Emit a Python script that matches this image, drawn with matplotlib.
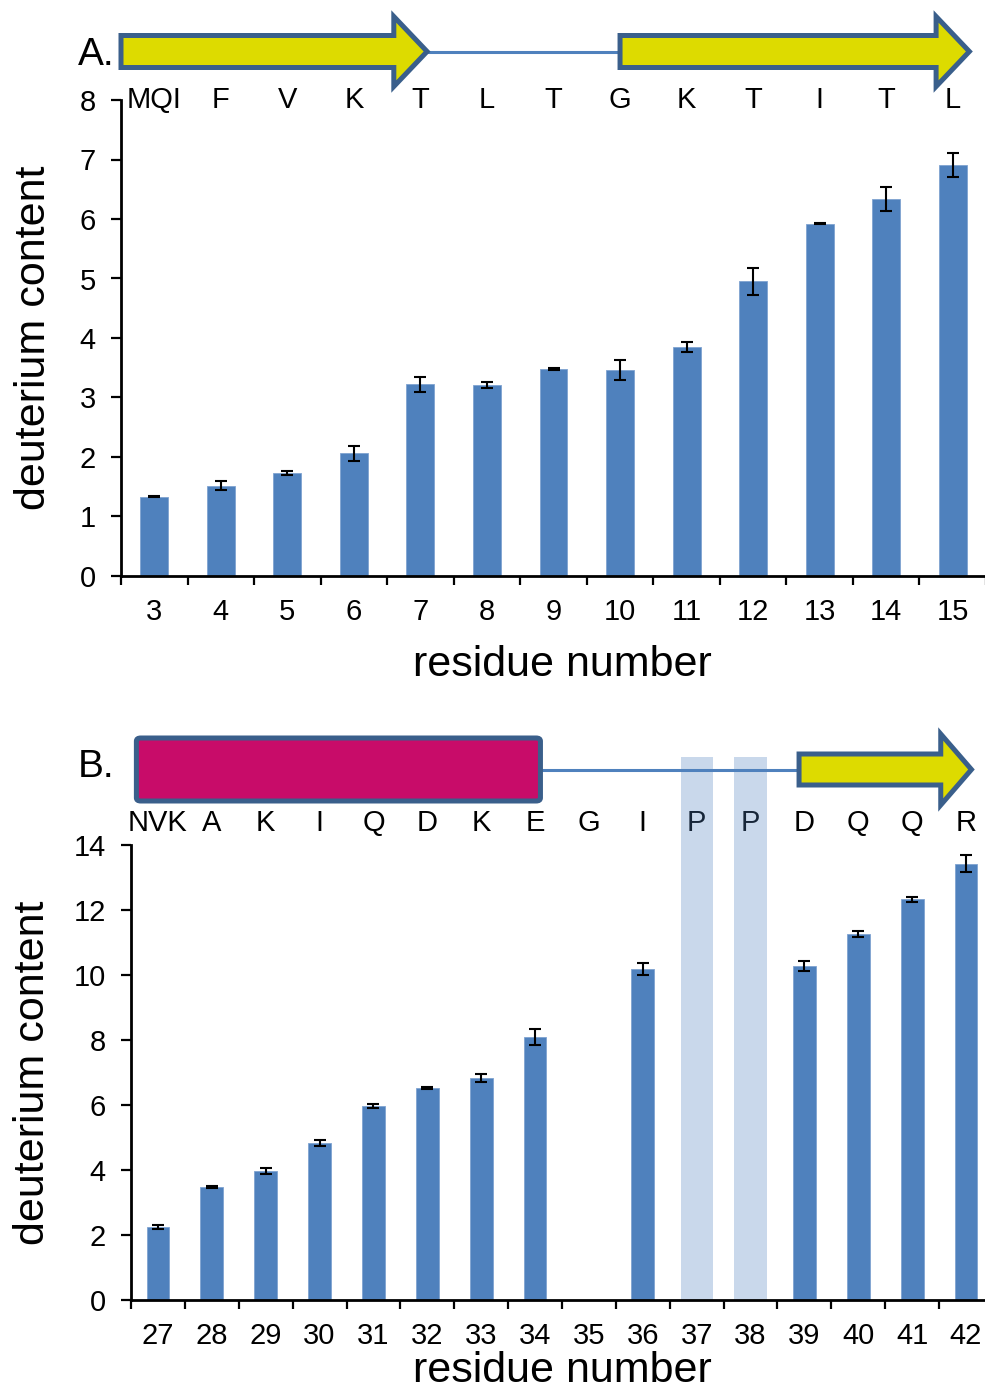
import numpy as np
import matplotlib
matplotlib.use("Agg")
import matplotlib.pyplot as plt
from matplotlib.patches import Polygon, FancyBboxPatch

plt.rcParams['font.family'] = ['Liberation Sans', 'DejaVu Sans']

# ---- panel A data: residues 3-15 ----
residues_a = [3, 4, 5, 6, 7, 8, 9, 10, 11, 12, 13, 14, 15]
seq_a = ["MQI", "F", "V", "K", "T", "L", "T", "G", "K", "T", "I", "T", "L"]
deut_a = [1.33, 1.52, 1.73, 2.06, 3.22, 3.21, 3.48, 3.46, 3.85, 4.95, 5.92, 6.34, 6.91]
err_a = [0.01, 0.07, 0.03, 0.13, 0.12, 0.05, 0.01, 0.17, 0.08, 0.22, 0.01, 0.20, 0.20]
# secondary structure spans (residue units)
ss_a = [("strand", 2.5, 7.1), ("loop", 7.1, 10.0), ("strand", 10.0, 15.25)]

# ---- panel B data: residues 27-42 ----
residues_b = [27, 28, 29, 30, 31, 32, 33, 34, 35, 36, 37, 38, 39, 40, 41, 42]
seq_b = ["NVK", "A", "K", "I", "Q", "D", "K", "E", "G", "I", "P", "P", "D", "Q", "Q", "R"]
deut_b = [2.25, 3.48, 3.97, 4.83, 5.97, 6.52, 6.83, 8.09, np.nan, 10.19,
          np.nan, np.nan, 10.28, 11.26, 12.33, 13.43]
err_b = [0.07, 0.02, 0.10, 0.10, 0.05, 0.03, 0.12, 0.25, np.nan, 0.19,
         np.nan, np.nan, 0.16, 0.10, 0.07, 0.25]
ss_b = [("helix", 26.6, 34.1), ("loop", 34.1, 38.9), ("strand", 38.9, 42.1)]
prolines_b = [37, 38]

BAR = "#4F81BD"
OUTLINE = "#3A5F8B"
YELLOW = "#DDDB00"
MAGENTA = "#C80C69"
TICK_FS = 21
LABEL_FS = 31

W, H = 985, 1392
fig = plt.figure(figsize=(W / 100, H / 100), dpi=100)


def px_rect(left, top, right, bottom):
    return [left / W, 1 - bottom / H, (right - left) / W, (bottom - top) / H]


def draw_header(hax, ss, first, yc, body_h, head_h, head_len):
    for kind, start, end in ss:
        x0, x1 = start - first, end - first
        if kind == "strand":
            pts = [(x0, yc - body_h / 2), (x1 - head_len, yc - body_h / 2),
                   (x1 - head_len, yc - head_h / 2), (x1, yc),
                   (x1 - head_len, yc + head_h / 2), (x1 - head_len, yc + body_h / 2),
                   (x0, yc + body_h / 2)]
            hax.add_patch(Polygon(pts, closed=True, fc=YELLOW, ec=OUTLINE, lw=3.6,
                                  joinstyle='miter', clip_on=False, zorder=3))
        elif kind == "helix":
            hax.add_patch(FancyBboxPatch((x0, yc - 31.5), x1 - x0, 63,
                                         boxstyle="round,pad=0,rounding_size=0.08",
                                         fc=MAGENTA, ec=OUTLINE, lw=3.6,
                                         mutation_aspect=40, clip_on=False, zorder=3))
        else:
            hax.plot([x0, x1], [yc, yc], color=BAR, lw=2.2, solid_capstyle='butt',
                     clip_on=False, zorder=1)


def style_panel(ax, n, ymax, ystep):
    ax.patch.set_visible(False)
    ax.set_xlim(-0.5, n - 0.5)
    ax.set_ylim(0, ymax)
    for s in ("top", "right"):
        ax.spines[s].set_visible(False)
    for s in ("left", "bottom"):
        ax.spines[s].set_linewidth(2.0)
    ax.set_xticks(np.arange(-0.5, n), labels=[])
    ax.tick_params(axis='x', which='major', direction='out', length=6.5, width=1.6)
    ax.set_yticks(np.arange(0, ymax + 0.1, ystep))
    ax.tick_params(axis='y', direction='out', length=7, width=1.6, pad=11,
                   labelsize=TICK_FS)
    ax.tick_params(axis='x', which='minor', length=0, pad=16, labelsize=TICK_FS)


# header axes first so the panel axes (and proline bands) sit on top
hdr_a = fig.add_axes(px_rect(121, 0, 986, 100))
hdr_a.set_xlim(-0.5, len(residues_a) - 0.5)
hdr_a.set_ylim(100, 0)
hdr_a.axis('off')
draw_header(hdr_a, ss_a, residues_a[0], 51.5, 32, 70, 0.5)
for i, aa in enumerate(seq_a):
    hdr_a.text(i, 100, aa, ha='center', va='center', fontsize=TICK_FS, clip_on=False)

hdr_b = fig.add_axes(px_rect(131, 720, 993, 820))
hdr_b.set_xlim(-0.5, len(residues_b) - 0.5)
hdr_b.set_ylim(820, 720)
hdr_b.axis('off')
draw_header(hdr_b, ss_b, residues_b[0], 769.5, 31, 71, 0.57)
for i, aa in enumerate(seq_b):
    hdr_b.text(i, 823, aa, ha='center', va='center', fontsize=TICK_FS, clip_on=False)

# ---- panel A ----
ax_a = fig.add_axes(px_rect(121, 100, 986, 576))
xa = np.arange(len(residues_a))
ax_a.bar(xa, deut_a, width=0.42, color=BAR, edgecolor="#7FA3D1", linewidth=0.6, zorder=2)
ax_a.errorbar(xa, deut_a, yerr=err_a, fmt='none', ecolor='black', elinewidth=1.5,
              capsize=4.2, capthick=1.5, zorder=3)
style_panel(ax_a, len(residues_a), 8, 1)
ax_a.set_xticks(xa, labels=[str(r) for r in residues_a], minor=True)
ax_a.set_xlabel("residue number", fontsize=LABEL_FS)
ax_a.set_ylabel("deuterium content", fontsize=LABEL_FS)
ax_a.xaxis.set_label_coords(0.51, -0.145)
ax_a.yaxis.set_label_coords(-0.078, 0.5)

# ---- panel B ----
ax_b = fig.add_axes(px_rect(131, 845, 993, 1300))
xb = np.arange(len(residues_b))
xp = [residues_b.index(r) for r in prolines_b]
ax_b.bar(xp, [16.7] * len(xp), width=0.6, color=BAR, alpha=0.3, linewidth=0,
         clip_on=False, zorder=1)
ax_b.bar(xb, deut_b, width=0.42, color=BAR, edgecolor="#7FA3D1", linewidth=0.6, zorder=2)
ax_b.errorbar(xb, deut_b, yerr=err_b, fmt='none', ecolor='black', elinewidth=1.5,
              capsize=4.2, capthick=1.5, zorder=3)
style_panel(ax_b, len(residues_b), 14, 2)
ax_b.set_xticks(xb, labels=[str(r) for r in residues_b], minor=True)
ax_b.set_xlabel("residue number", fontsize=LABEL_FS)
ax_b.set_ylabel("deuterium content", fontsize=LABEL_FS)
ax_b.xaxis.set_label_coords(0.5, -0.113)
ax_b.yaxis.set_label_coords(-0.09, 0.5)

fig.text(78 / W, 1 - 65 / H, "A.", fontsize=28, ha='left', va='baseline')
fig.text(78 / W, 1 - 777 / H, "B.", fontsize=28, ha='left', va='baseline')

fig.savefig("out.png", dpi=100)
